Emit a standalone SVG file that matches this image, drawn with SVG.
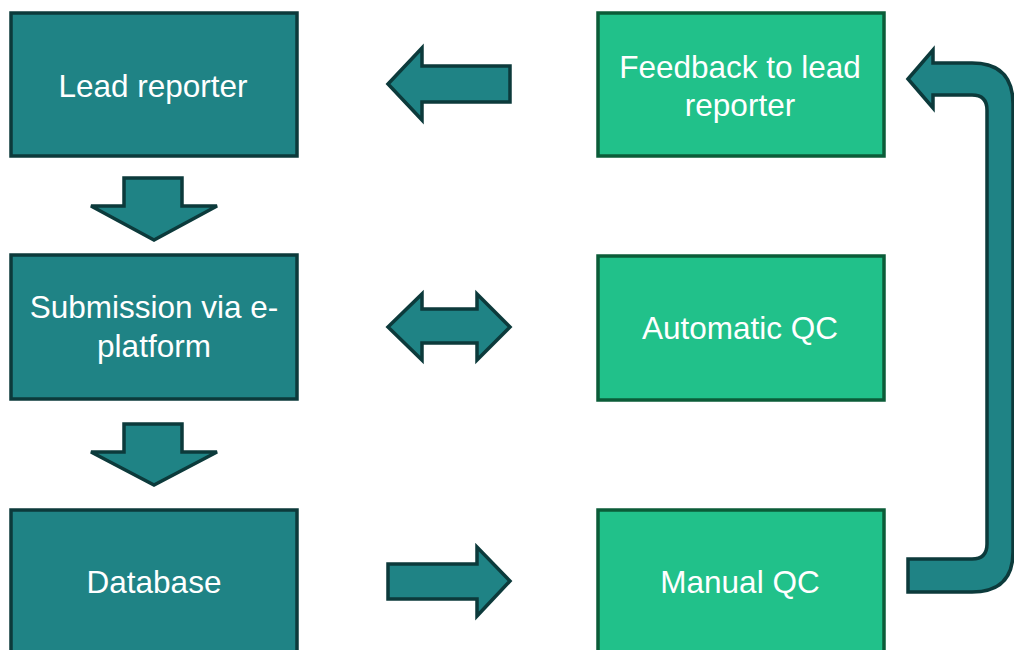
<svg xmlns="http://www.w3.org/2000/svg" width="1014" height="650" viewBox="0 0 1014 650">
<style>
.dk{fill:#1f8385;stroke:#0c3a3b;stroke-width:3.5}
.lt{fill:#21c18a;stroke:#0b5c38;stroke-width:3.5}
.ar{fill:#1f8385;stroke:#0c3a3b;stroke-width:3.5;stroke-linejoin:miter}
text{font-family:"Liberation Sans",Arial,sans-serif;font-size:31.5px;fill:#ffffff;text-anchor:middle}
</style>
<rect width="1014" height="650" fill="#ffffff"/>
<g id="lead-reporter"><rect class="dk" x="11" y="13" width="286" height="143"/><text x="153" y="97">Lead reporter</text></g>
<g id="submission"><rect class="dk" x="11" y="255" width="286" height="144"/><text x="154" y="318">Submission via e-</text><text x="154" y="357">platform</text></g>
<g id="database"><rect class="dk" x="11" y="510" width="286" height="150"/><text x="154" y="593">Database</text></g>
<g id="feedback"><rect class="lt" x="598" y="13" width="286" height="143"/><text x="740" y="78">Feedback to lead</text><text x="740" y="116">reporter</text></g>
<g id="automatic-qc"><rect class="lt" x="598" y="256" width="286" height="144"/><text x="740" y="339">Automatic QC</text></g>
<g id="manual-qc"><rect class="lt" x="598" y="510" width="286" height="150"/><text x="740" y="593">Manual QC</text></g>
<g id="connectors">
<path class="ar" d="M388,84 L422,48 L422,66 L510,66 L510,102 L422,102 L422,120 Z"/>
<path class="ar" d="M388,327 L422,294 L422,309 L477,309 L477,294 L510,327 L477,360 L477,343 L422,343 L422,360 Z"/>
<path class="ar" d="M388,564 L477,564 L477,547 L510,581 L477,616 L477,599 L388,599 Z"/>
<path class="ar" d="M124,178 L182,178 L182,206 L217,206 L154,240 L91,206 L124,206 Z"/>
<path class="ar" d="M124,424 L182,424 L182,452 L217,452 L154,485 L91,452 L124,452 Z"/>
<path class="ar" d="M908,79 L933,50 L933,63 L972,63 Q1013,63 1013,104 L1013,552 Q1013,592 972,592 L908,592 L908,559 L972,559 Q987,559 987,544 L987,110 Q987,95 972,95 L933,95 L933,108 Z"/>
</g>
</svg>
